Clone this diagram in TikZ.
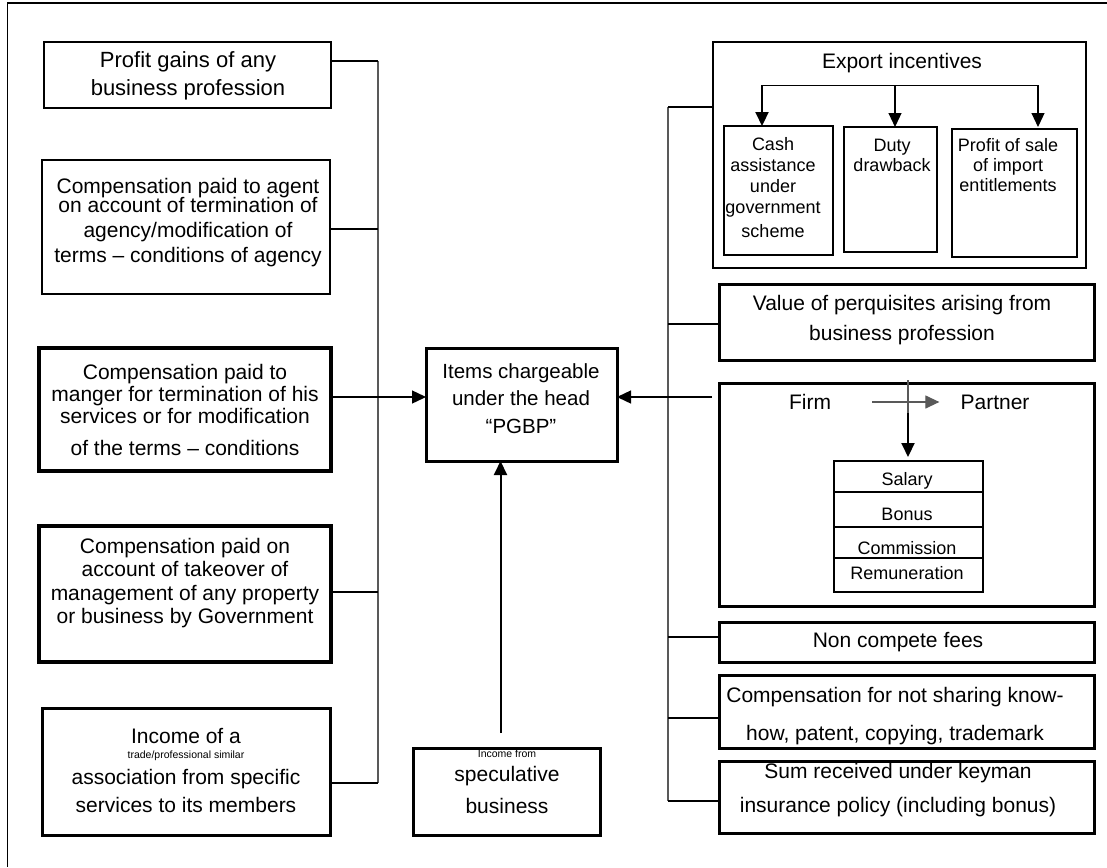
\documentclass[tikz,border=0pt]{standalone}
\usepackage{fontspec}
\setmainfont{Liberation Sans}
\usetikzlibrary{arrows.meta}
\begin{document}
\begin{tikzpicture}[x=1pt,y=-1pt,
  B/.style n args={3}{draw, inner sep=0pt, outer sep=0pt, minimum width=#1pt, minimum height=#2pt, line width=#3pt},
  T/.style={inner sep=0pt, align=center, font=\fontsize{21}{25}\selectfont},
  S/.style={inner sep=0pt, align=center, font=\fontsize{18}{20}\selectfont},
  tiny/.style={inner sep=0pt, align=center, font=\fontsize{10.5}{12}\selectfont},
  arr/.style={-{Triangle[length=14pt,width=13pt]}},
  grayline/.style={draw=black!65, line width=1.2pt},
  thinline/.style={draw=black, line width=1.2pt},
  thickline/.style={draw=black, line width=2.7pt}]
\useasboundingbox (0,0) rectangle (1107,867);
% outer frame
\draw[line width=1.5pt] (1107,3) -- (7.5,3) -- (7.5,867);

% ---------- left column ----------
\node[B={287}{66}{1.8}] (b1) at (187.5,75) {};
\node[T, font=\fontsize{22}{28}\selectfont] (t1) at (188,76) {Profit gains of any\\business profession};

\node[B={288}{134}{1.8}] (b2) at (186,227) {};
\node[T] (t2) at (188,223) {Compensation paid to agent\\[-6pt]on account of termination of\\agency/modification of\\terms – conditions of agency};

\node[B={292}{123}{3.7}] (b3) at (185,409.5) {};
\node[T, font=\fontsize{21}{22}\selectfont] (t3) at (185,410) {Compensation paid to\\manger for termination of his\\services or for modification\\[10pt]of the terms – conditions};

\node[B={292}{136}{3.7}] (b4) at (185,594) {};
\node[T, font=\fontsize{21}{23.5}\selectfont] (t4) at (185,583) {Compensation paid on\\account of takeover of\\management of any property\\or business by Government};

\node[B={288}{127}{3}] (b5) at (186,771.5) {};
\node[T] (t5a) at (186,736) {Income of a};
\node[tiny] (t5b) at (186,756) {trade/professional similar};
\node[T, font=\fontsize{21}{28}\selectfont] (t5c) at (186,791) {association from specific\\services to its members};

% left bus
\coordinate (L1) at (378,61);
\coordinate (L2) at (378,229);
\coordinate (L3) at (378,397);
\coordinate (L4) at (378,592);
\coordinate (L5) at (378,783);
\draw[grayline] (L1) -- (L5);
\draw[thinline] (b1.east |- L1) -- (L1);
\draw[thinline] (b2.east |- L2) -- (L2);
\draw[thickline] (b4.east |- L4) -- (L4);
\draw[thickline] (b5.east |- L5) -- (L5);

% ---------- centre ----------
\node[B={191}{113}{3}] (c) at (521.5,404.5) {};
\node[T, font=\fontsize{20.5}{27.5}\selectfont] (ct) at (521,398.5) {Items chargeable\\under the head\\“PGBP”};
\draw[thinline, line width=1.4pt, arr] (b3.east |- L3) -- (c.west |- L3);

\node[B={187}{87}{3}] (sp) at (506.5,791.5) {};
\node[tiny] (spa) at (507,754) {Income from};
\node[T, font=\fontsize{21}{32}\selectfont] (spb) at (507,790) {speculative\\business};
\coordinate (sv) at (500.5,733);
\draw[line width=2pt, arr] (sv) -- (sv |- c.south);

% ---------- right column ----------
\node[B={373}{226}{2}] (ex) at (899.5,155) {};
\node[T] (ext) at (902,63) {Export incentives};
\node[B={109}{129}{2}] (cash) at (778.5,190.5) {};
\node[S, font=\fontsize{18}{21}\selectfont] (casht) at (773,188) {Cash\\assistance\\under\\government\\[3pt]scheme};
\node[B={93}{125}{2}] (duty) at (890.5,189.5) {};
\node[S] (dutyt) at (892,155) {Duty\\drawback};
\node[B={125}{128}{2}] (prof) at (1014.5,193) {};
\node[S] (proft) at (1008,165) {Profit of sale\\of import\\entitlements};
\coordinate (d1) at (762,85);
\coordinate (d2) at (895,85);
\coordinate (d3) at (1038,85);
\draw[line width=1pt] (d1) -- (d3);
\draw[line width=2.2pt, arr] (d1) -- (d1 |- cash.north);
\draw[line width=1.2pt, arr] (d2) -- (d2 |- duty.north);
\draw[line width=1.2pt, arr, shorten >=2pt] (d3) -- (d3 |- prof.north);

\node[B={375}{76}{3}] (val) at (906.5,322) {};
\node[T, font=\fontsize{21}{30}\selectfont] (valt) at (902,320) {Value of perquisites arising from\\business profession};

\node[B={375}{223}{3}] (fb) at (906.5,494.5) {};
\node[T] (firm) at (810,402) {Firm};
\node[T] (partner) at (995,402) {Partner};
\draw[draw=black!65, line width=1.2pt, arr, shorten <=41pt, shorten >=21pt] (firm.east) -- (partner.west);
\node[B={149}{31}{2.5}] (s1) at (908.5,476.5) {};
\node[B={149}{35}{2.5}] (s2) at (908.5,509.5) {};
\node[B={149}{31}{2.5}] (s3) at (908.5,542.5) {};
\node[B={149}{34}{2.5}] (s4) at (908.5,575) {};
\node[S] (s1t) at (907,481) {Salary};
\node[S] (s2t) at (907,514) {Bonus};
\node[S] (s3t) at (907,548) {Commission};
\node[S] (s4t) at (907,573) {Remuneration};
\coordinate (v0) at (908,380);
\coordinate (v1) at (908,413);
\draw[grayline] (v0) -- (v1);
\draw[line width=2pt, arr, shorten >=4pt] (v1) -- (v1 |- s1.north);

\node[B={375}{40}{3}] (nc) at (906.5,642) {};
\node[T] (nct) at (898,642) {Non compete fees};
\node[B={375}{73}{3}] (kh) at (906.5,711.5) {};
\node[T, font=\fontsize{21}{38}\selectfont] (kht) at (895,716) {Compensation for not sharing know-\\how, patent, copying, trademark};
\node[B={375}{72}{3}] (km) at (906.5,797) {};
\node[T, font=\fontsize{21}{34}\selectfont] (kmt) at (898,790) {Sum received under keyman\\insurance policy (including bonus)};

% right bus
\coordinate (R1) at (668,107);
\coordinate (R2) at (668,324);
\coordinate (R3) at (668,397);
\coordinate (R4) at (668,637);
\coordinate (R5) at (668,718);
\coordinate (R6) at (668,801);
\draw[grayline] (R1) -- (R6);
\draw[thinline] (R1) -- (ex.west |- R1);
\draw[thickline] (R2) -- (val.west |- R2);
\draw[thinline, line width=1.4pt, arr, shorten <=7pt] (fb.west |- R3) -- (c.east |- R3);
\draw[thickline] (R4) -- (nc.west |- R4);
\draw[thickline] (R5) -- (kh.west |- R5);
\draw[thickline] (R6) -- (km.west |- R6);
\end{tikzpicture}
\end{document}
